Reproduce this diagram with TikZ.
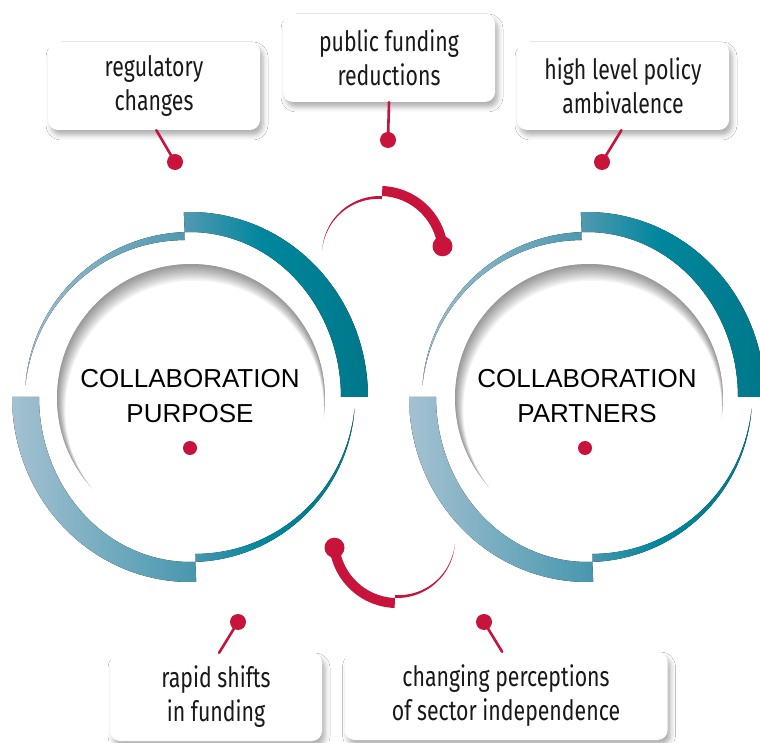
\documentclass[tikz,border=0pt]{standalone}
\usepackage{fontspec}
\setmainfont{Liberation Sans}
\newfontfamily\condfont[FakeStretch=0.76]{Fira Sans}
\usetikzlibrary{shadows.blur}
\definecolor{crimson}{HTML}{C8133B}
\definecolor{ringlight}{HTML}{A4C1D1}
\definecolor{ringmid}{HTML}{4A98AF}
\definecolor{ringteal}{HTML}{00879D}
\definecolor{ringdark}{HTML}{00778A}
\pgfdeclarehorizontalshading{ringshade}{100bp}{color(0bp)=(ringlight); color(25bp)=(ringlight); color(50bp)=(ringmid); color(60bp)=(ringteal); color(75bp)=(ringdark); color(100bp)=(ringdark)}
\begin{document}
\begin{tikzpicture}[x=1pt,y=1pt,line join=round,line cap=round,
	box/.style={fill=white,rounded corners=10pt,minimum height=88pt,align=center,text=black!90,
		font=\condfont\fontsize{28}{34}\selectfont,
		blur shadow={shadow xshift=3pt,shadow yshift=-5pt,shadow blur radius=5pt,shadow opacity=32}},
	dotnode/.style={circle,fill=crimson,inner sep=0pt,minimum size=16pt},
	link/.style={crimson,line width=2.6pt},
	title/.style={align=center,font=\fontsize{26}{35}\selectfont}]
	\path[use as bounding box,fill=white] (0,0) rectangle (760,742);
	% rings
	\foreach \cx in {190,587}{
		\begin{scope}
			\clip plot[domain=0:92,samples=40] ({\cx+178*cos(\x)},{345+185*sin(\x)})
				-- plot[domain=92:0,samples=40] ({\cx+151*cos(\x)},{345+165*sin(\x)}) -- cycle
				plot[domain=180:272,samples=40] ({\cx+178*cos(\x)},{345+185*sin(\x)})
				-- plot[domain=272:180,samples=40] ({\cx+151*cos(\x)},{345+165*sin(\x)}) -- cycle
				plot[domain=92:176,samples=40] ({\cx+165*cos(\x)},{345+165*sin(\x)})
				-- plot[domain=176:92,samples=40] ({\cx+(157+8*(\x-92)/84)*cos(\x)},{345+(157+8*(\x-92)/84)*sin(\x)}) -- cycle
				plot[domain=272:356,samples=40] ({\cx+165*cos(\x)},{345+165*sin(\x)})
				-- plot[domain=356:272,samples=40] ({\cx+(157+8*(\x-272)/84)*cos(\x)},{345+(157+8*(\x-272)/84)*sin(\x)}) -- cycle;
			\fill[shading=ringshade] (\cx-178,155) rectangle (\cx+178,535);
		\end{scope}
	}
	\foreach \cx in {191,589}{
		\begin{scope}
			\clip (\cx,344) circle (134);
			\foreach \k in {1,...,12}
				\fill[black,opacity=.04,even odd rule] (\cx-140,200) rectangle (\cx+140,490) (\cx+.3*\k,344-\k) circle (134-.4*\k);
		\end{scope}
	}
	\node[title] (purpose) at (190,346) {COLLABORATION\\PURPOSE};
	\node[title] (partners) at (587,346) {COLLABORATION\\PARTNERS};
	\node[dotnode,minimum size=14pt] (purpose-d) at (190,294) {};
	\node[dotnode,minimum size=14pt] (partners-d) at (585,294) {};
	% red arcs between the rings
	\foreach \r in {0,180}{
		\begin{scope}[rotate around={\r:(388.5,345)}]
			\fill[crimson] plot[domain=7:88,samples=30] ({380+68*cos(\x)},{488+68*sin(\x)})
				-- plot[domain=88:7,samples=30] ({380+58*cos(\x)},{488+58*sin(\x)}) -- cycle;
			\fill[crimson] plot[domain=88:176,samples=30] ({380+58*cos(\x)},{488+58*sin(\x)})
				-- plot[domain=176:88,samples=30] ({380+(55+3*(\x-88)/88)*cos(\x)},{488+(55+3*(\x-88)/88)*sin(\x)}) -- cycle;
			\fill[crimson] (442.5,495.7) circle (10);
		\end{scope}
	}
	% boxes
	\node[box,minimum width=212pt] (reg) at (154,656) {regulatory\\changes};
	\node[box,minimum width=212pt] (pub) at (389,684) {public funding\\reductions};
	\node[box,minimum width=212pt] (pol) at (623,656) {high level policy\\ambivalence};
	\node[box,minimum width=212pt] (shift) at (216,45) {rapid shifts\\in funding};
	\node[box,minimum width=323pt] (percep) at (506,46) {changing perceptions\\of sector independence};
	\node[dotnode] (reg-d) at (175,580) {};
	\node[dotnode] (pub-d) at (388,602) {};
	\node[dotnode] (pol-d) at (602,580) {};
	\node[dotnode] (shift-d) at (238,120) {};
	\node[dotnode] (percep-d) at (484,120) {};
	\draw[link] (reg.-87) -- (reg-d.center);
	\draw[link] (pub.south) -- (pub-d.center);
	\draw[link] (pol.-92) -- (pol-d.center);
	\draw[link] (shift.86) -- (shift-d.center);
	\draw[link] (percep.95) -- (percep-d.center);
\end{tikzpicture}
\end{document}
